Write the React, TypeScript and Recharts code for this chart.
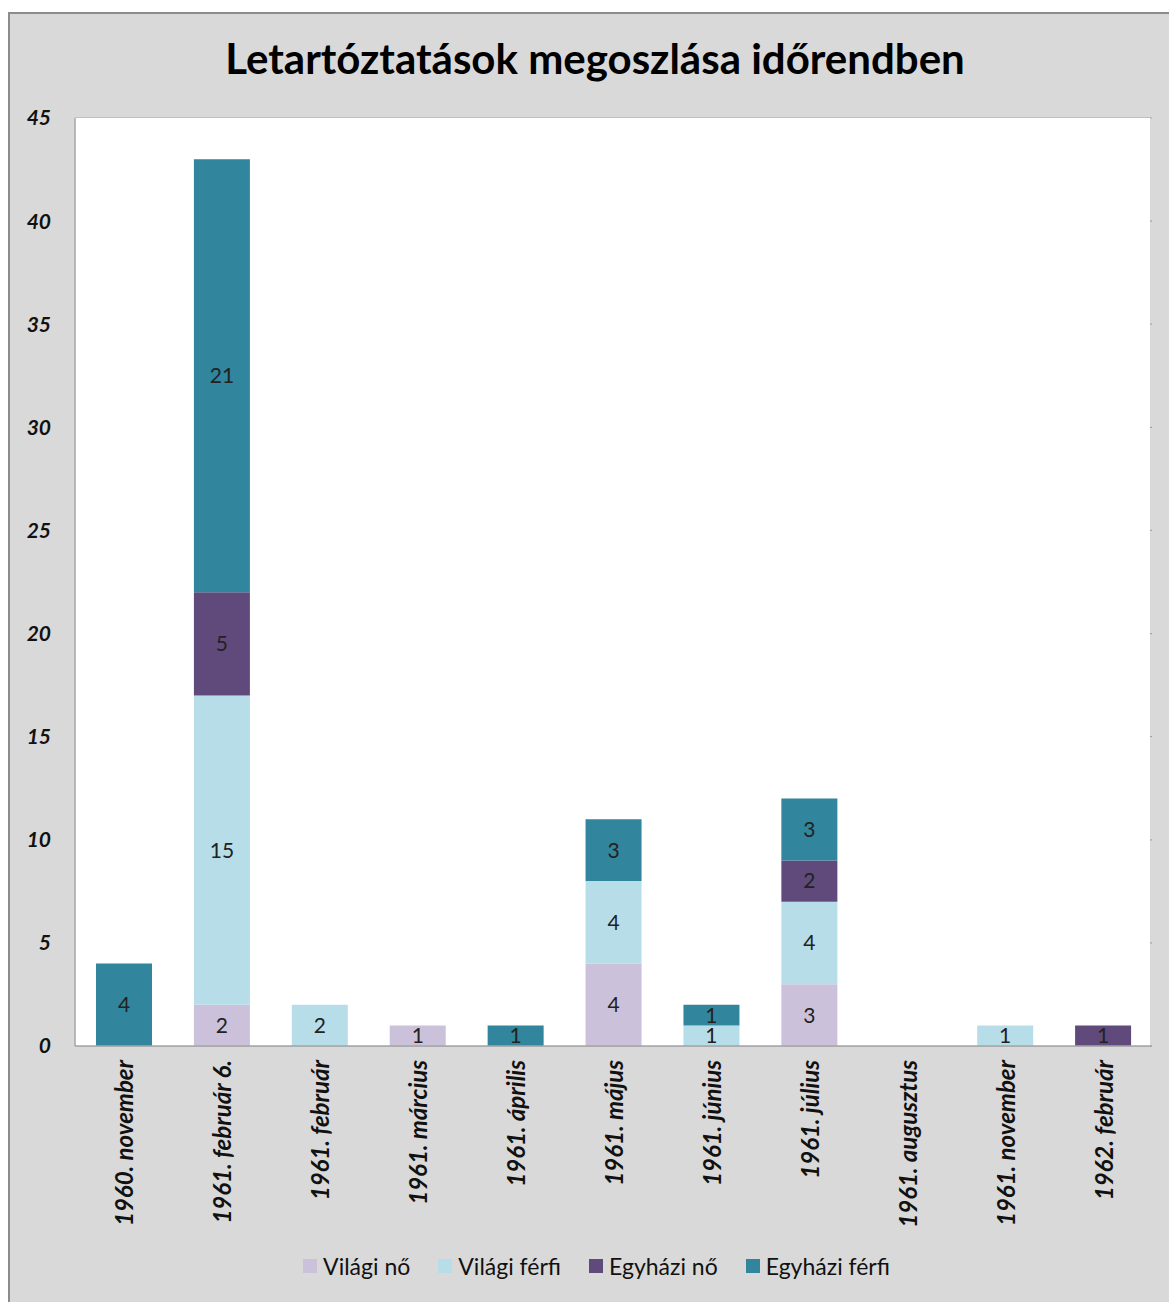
import {
  Bar,
  BarChart,
  CartesianGrid,
  LabelList,
  Legend,
  XAxis,
  YAxis,
} from "recharts";

const honapok = [
  "1960. november",
  "1961. február 6.",
  "1961. február",
  "1961. március",
  "1961. április",
  "1961. május",
  "1961. június",
  "1961. július",
  "1961. augusztus",
  "1961. november",
  "1962. február",
];

const vilagiNo = [0, 2, 0, 1, 0, 4, 0, 3, 0, 0, 0];
const vilagiFerfi = [0, 15, 2, 0, 0, 4, 1, 4, 0, 1, 0];
const egyhaziNo = [0, 5, 0, 0, 0, 0, 0, 2, 0, 0, 1];
const egyhaziFerfi = [4, 21, 0, 0, 1, 3, 1, 3, 0, 0, 0];

const yTicks = [0, 5, 10, 15, 20, 25, 30, 35, 40, 45];

const sorozatok = [
  { kulcs: "vilagiNo", nev: "Világi nő", szin: "#ccc1da" },
  { kulcs: "vilagiFerfi", nev: "Világi férfi", szin: "#b7dee8" },
  { kulcs: "egyhaziNo", nev: "Egyházi nő", szin: "#604a7b" },
  { kulcs: "egyhaziFerfi", nev: "Egyházi férfi", szin: "#31859c" },
];

const dados = honapok.map((nev, i) => ({
  nev,
  vilagiNo: vilagiNo[i],
  vilagiFerfi: vilagiFerfi[i],
  egyhaziNo: egyhaziNo[i],
  egyhaziFerfi: egyhaziFerfi[i],
}));

const FONT = "Lato, 'Open Sans', sans-serif";

function XTick(props: any) {
  const { x, y, payload } = props;
  return (
    <text
      x={x}
      y={y}
      transform={`rotate(-90 ${x} ${y})`}
      textAnchor="end"
      dominantBaseline="central"
      fontFamily={FONT}
      fontSize={24}
      fontWeight="bold"
      fontStyle="italic"
      fill="#111"
    >
      {payload.value}
    </text>
  );
}

function Jelmagyarazat() {
  return (
    <div
      style={{
        display: "flex",
        justifyContent: "center",
        gap: 28,
        fontFamily: FONT,
        fontSize: 23,
        color: "#111",
        paddingLeft: 12,
      }}
    >
      {sorozatok.map((s) => (
        <div key={s.kulcs} style={{ display: "flex", alignItems: "center", gap: 6 }}>
          <span style={{ width: 14, height: 14, background: s.szin, display: "inline-block" }} />
          <span>{s.nev}</span>
        </div>
      ))}
    </div>
  );
}

export default function App() {
  return (
    <div
      style={{
        position: "fixed",
        top: 12,
        left: 8,
        width: 1161,
        height: 1290,
        overflow: "hidden",
      }}
    >
      <div
        style={{
          width: 1172,
          height: 1292,
          background: "#d9d9d9",
          border: "2px solid #8c8c8c",
          boxSizing: "border-box",
          position: "relative",
        }}
      >
        <div
          style={{
            position: "absolute",
            top: 19,
            left: 0,
            width: 1170,
            textAlign: "center",
            fontFamily: FONT,
            fontWeight: "bold",
            fontSize: 42,
            color: "#000",
          }}
        >
          Letartóztatások megoszlása időrendben
        </div>
        <BarChart
          width={1161}
          height={1288}
          data={dados}
          barSize={56}
          margin={{ top: 104, right: 19, bottom: 0, left: 0 }}
        >
          <rect x={65} y={104} width={1075} height={928} fill="#ffffff" />
          <CartesianGrid vertical={false} stroke="#a6a6a6" strokeWidth={1.2} />
          <XAxis
            dataKey="nev"
            interval={0}
            height={256}
            tick={<XTick />}
            tickLine={false}
            tickSize={0}
            tickMargin={14}
            axisLine={{ stroke: "#a6a6a6", strokeWidth: 1.5 }}
          />
          <YAxis
            domain={[0, 45]}
            ticks={yTicks}
            width={65}
            tickLine={false}
            tickSize={0}
            tickMargin={24}
            axisLine={{ stroke: "#a6a6a6", strokeWidth: 1.5 }}
            tick={{
              fontFamily: FONT,
              fontSize: 21,
              fontWeight: "bold",
              fontStyle: "italic",
              fill: "#111",
            }}
          />
          <YAxis
            yAxisId="jobb"
            orientation="right"
            domain={[0, 45]}
            width={0}
            tick={false}
            tickLine={false}
            axisLine={{ stroke: "#a6a6a6", strokeWidth: 1.5 }}
          />
          <Legend
            layout="horizontal"
            verticalAlign="middle"
            align="center"
            wrapperStyle={{ top: 1238, left: 0, width: 1161 }}
            content={<Jelmagyarazat />}
          />
          {sorozatok.map((s) => (
            <Bar
              key={s.kulcs}
              dataKey={s.kulcs}
              name={s.nev}
              stackId="a"
              fill={s.szin}
              isAnimationActive={false}
            >
              <LabelList
                dataKey={s.kulcs}
                position="center"
                formatter={(v: any) => (v ? v : "")}
                style={{ fontFamily: FONT, fontSize: 21, fill: "#222" }}
              />
            </Bar>
          ))}
        </BarChart>
      </div>
    </div>
  );
}
